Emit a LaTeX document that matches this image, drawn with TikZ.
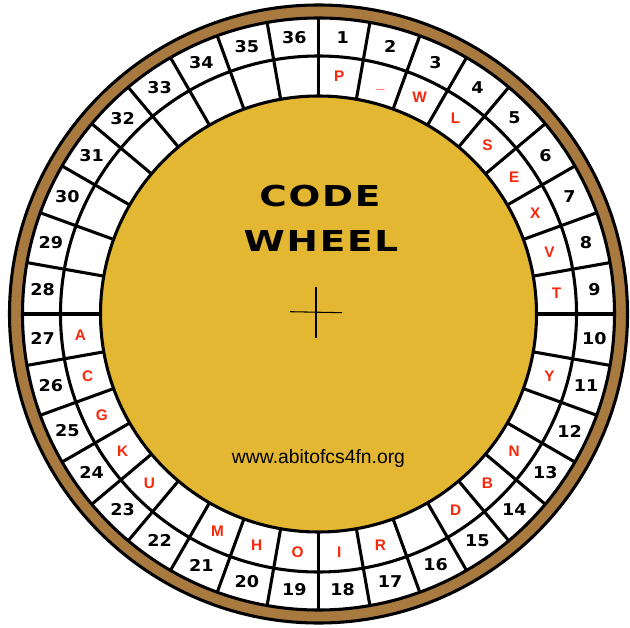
\documentclass[tikz,border=0pt]{standalone}
\usepackage{fontspec}
\usepackage{tikz}
\setmainfont{Liberation Sans}
\newfontfamily\numfont[FakeStretch=1.08]{DejaVu Sans}
\newfontfamily\letterfont{Liberation Sans}
\newfontfamily\titlefont[FakeStretch=1.3,LetterSpace=6]{DejaVu Sans}
\definecolor{wheelbrown}{RGB}{168,122,64}
\definecolor{wheelgold}{RGB}{227,183,50}
\definecolor{letterred}{RGB}{250,40,10}

\begin{document}
\begin{tikzpicture}[x=0.75pt,y=0.75pt,
			ring_style/.style={line width=2.3pt,black},
			divider_style/.style={line width=2.3pt,black},
			num_style/.style={font=\numfont\bfseries\fontsize{12.2}{12.2}\selectfont,inner sep=0pt},
			letter_style/.style={font=\letterfont\bfseries\fontsize{11.5}{11.5}\selectfont,text=letterred,inner sep=0pt,text height=8.2pt,text depth=0pt},
			title_style/.style={font=\titlefont\bfseries\fontsize{21.6}{21.6}\selectfont,inner sep=0pt,anchor=base}]
			
			\useasboundingbox (-318.5,-313) rectangle (311.5,314);
			
			% rings
			\fill[wheelbrown] (0,0) circle (309);
			\draw[ring_style] (0,0) circle (309);
			\fill[white] (0,0) circle (296);
			\draw[ring_style] (0,0) circle (296);
			\draw[ring_style] (0,0) circle (258);
			\foreach \a in {0,10,...,350}{
				\draw[divider_style] (\a:218) -- (\a:296);}
			\filldraw[ring_style,fill=wheelgold] (0,0) circle (218);
			
			% numbers and letters
			\foreach \k in {1,...,36}{
				\node[num_style] (n\k) at ({90-(\k-0.5)*10}:277){\k};}
			\foreach \k/\c in {1/P,2/\_,3/W,4/L,5/S,6/E,7/X,8/V,9/T,11/Y,13/N,14/B,15/D,17/R,18/I,19/O,20/H,21/M,23/U,24/K,25/G,26/C,27/A}{
				\node[letter_style] (l\k) at ({90-(\k-0.5)*10}:239){\c};}
			
			\node[title_style] (code) at (1.5,107){CODE};
			\node[title_style] (wheel) at (2.5,62){WHEEL};
			\node[anchor=base,inner sep=0pt,font=\fontsize{14.5}{14.5}\selectfont] (url) at (0,-149){www.abitofcs4fn.org};
			
			\draw[line width=0.8pt] (-2.5,27) -- (-2.5,-24);
			\draw[line width=0.8pt] (-28.5,2.3) -- (23.5,1.3);
		\end{tikzpicture}
\end{document}
